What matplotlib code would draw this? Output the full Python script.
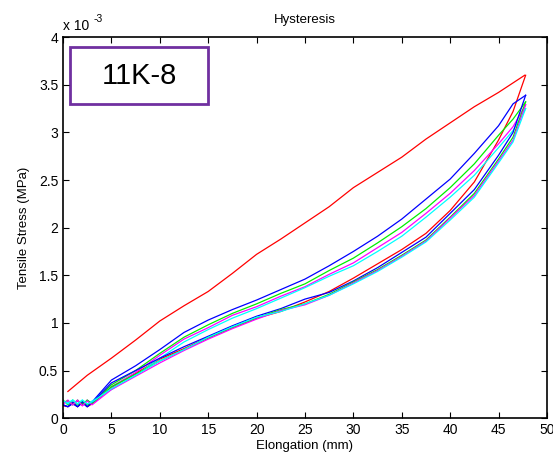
import matplotlib
matplotlib.use("Agg")
import matplotlib.pyplot as plt
from matplotlib.patches import Rectangle
from matplotlib.ticker import FormatStrFormatter

plt.rcParams["font.family"] = ["Liberation Sans", "DejaVu Sans"]

# Stress values in units of 1e-3 MPa
# first cycle (red) loading: the steep, almost straight upper path
load1_x = [0.5, 2.5, 5, 7.5, 10, 12.5, 15, 17.5, 20, 22.5, 25, 27.5, 30, 32.5, 35, 37.5, 40, 42.5, 45, 47.7]
load1_y = [0.28, 0.45, 0.63, 0.82, 1.02, 1.18, 1.33, 1.52, 1.72, 1.88, 2.05, 2.22, 2.42, 2.58, 2.74, 2.93, 3.10, 3.27, 3.42, 3.60]

# loading of later cycles (upper band of the loop)
load_x = [0, 0.5, 1, 1.5, 2, 2.5, 3, 5, 7.5, 10, 12.5, 15, 17.5, 20, 22.5, 25, 27.5, 30, 32.5, 35, 37.5, 40, 42.5, 45, 46.5, 47.8]
load_blue = [0.14, 0.12, 0.17, 0.12, 0.16, 0.12, 0.17, 0.40, 0.55, 0.72, 0.90, 1.03, 1.14, 1.24, 1.35, 1.46, 1.60, 1.75, 1.91, 2.09, 2.30, 2.51, 2.78, 3.07, 3.30, 3.39]
load_green = [0.19, 0.14, 0.19, 0.14, 0.18, 0.14, 0.16, 0.35, 0.50, 0.68, 0.85, 0.98, 1.10, 1.20, 1.31, 1.41, 1.55, 1.68, 1.84, 2.01, 2.20, 2.42, 2.67, 2.97, 3.14, 3.32]
load_magenta = [0.15, 0.19, 0.14, 0.18, 0.13, 0.19, 0.15, 0.33, 0.48, 0.66, 0.83, 0.95, 1.08, 1.17, 1.28, 1.38, 1.51, 1.63, 1.79, 1.95, 2.15, 2.36, 2.60, 2.88, 3.06, 3.29]
load_cyan = [0.18, 0.15, 0.19, 0.15, 0.19, 0.15, 0.18, 0.30, 0.45, 0.63, 0.80, 0.93, 1.05, 1.15, 1.26, 1.37, 1.49, 1.60, 1.75, 1.91, 2.11, 2.32, 2.55, 2.84, 3.02, 3.25]

# unloading of every cycle (lower band of the loop)
unload_x = [47.8, 46.5, 45, 42.5, 40, 37.5, 35, 32.5, 30, 27.5, 25, 22.5, 20, 17.5, 15, 12.5, 10, 7.5, 5, 3, 2.5, 2, 1.5, 1, 0.5, 0]
unload_red = [3.60, 3.22, 2.92, 2.48, 2.18, 1.94, 1.77, 1.62, 1.47, 1.33, 1.22, 1.12, 1.05, 0.95, 0.85, 0.73, 0.62, 0.47, 0.32, 0.15, 0.12, 0.17, 0.12, 0.16, 0.12, 0.13]
unload_blue = [3.39, 3.00, 2.76, 2.40, 2.15, 1.90, 1.74, 1.58, 1.44, 1.32, 1.25, 1.15, 1.07, 0.97, 0.86, 0.75, 0.63, 0.50, 0.37, 0.16, 0.12, 0.17, 0.12, 0.15, 0.12, 0.14]
unload_green = [3.32, 2.95, 2.72, 2.36, 2.11, 1.87, 1.71, 1.56, 1.43, 1.30, 1.20, 1.14, 1.05, 0.95, 0.84, 0.72, 0.60, 0.46, 0.33, 0.15, 0.19, 0.14, 0.19, 0.14, 0.18, 0.17]
unload_magenta = [3.29, 2.92, 2.70, 2.34, 2.10, 1.86, 1.70, 1.55, 1.42, 1.29, 1.19, 1.13, 1.04, 0.94, 0.83, 0.71, 0.58, 0.44, 0.30, 0.14, 0.18, 0.13, 0.19, 0.14, 0.18, 0.15]
unload_cyan = [3.25, 2.90, 2.68, 2.32, 2.08, 1.85, 1.69, 1.54, 1.41, 1.29, 1.20, 1.12, 1.06, 0.96, 0.85, 0.72, 0.60, 0.45, 0.31, 0.17, 0.15, 0.19, 0.15, 0.19, 0.16, 0.18]

fig = plt.figure(figsize=(5.53, 4.59), dpi=100)
ax = fig.add_axes([0.114, 0.089, 0.875, 0.830])

lw = 0.9
ax.plot(load1_x, load1_y, color="red", lw=lw)
ax.plot(unload_x, unload_red, color="red", lw=lw)
for ys, c in [(load_blue, "blue"), (load_green, "#00ee00"), (load_magenta, "magenta"), (load_cyan, "cyan")]:
    ax.plot(load_x, ys, color=c, lw=lw)
for ys, c in [(unload_blue, "blue"), (unload_green, "#00ee00"), (unload_magenta, "magenta"), (unload_cyan, "cyan")]:
    ax.plot(unload_x, ys, color=c, lw=lw)

ax.set_xlim(0, 50)
ax.set_ylim(0, 4)
ax.set_xticks(range(0, 51, 5))
ax.set_yticks([0, 0.5, 1, 1.5, 2, 2.5, 3, 3.5, 4])
ax.yaxis.set_major_formatter(FormatStrFormatter("%g"))
ax.tick_params(direction="in", top=True, right=True, length=4, labelsize=10, width=0.8)
for s in ax.spines.values():
    s.set_linewidth(1.2)

ax.set_title("Hysteresis", fontsize=9.5, pad=10)
ax.set_xlabel("Elongation (mm)", fontsize=9.5, labelpad=2)
ax.set_ylabel("Tensile Stress (MPa)", fontsize=9.5, labelpad=6)
ax.text(0.0, 1.012, "x 10", transform=ax.transAxes, fontsize=10, ha="left", va="bottom")
ax.text(0.063, 1.035, "-3", transform=ax.transAxes, fontsize=7.5, ha="left", va="bottom")

# sample label box
ax.add_patch(Rectangle((0.0145, 0.824), 0.286, 0.150, transform=ax.transAxes,
                       fill=False, edgecolor="#7030A0", lw=2))
ax.text(0.157, 0.899, "11K-8", transform=ax.transAxes, fontsize=21, ha="center", va="center")

fig.savefig("out.png", dpi=100)
